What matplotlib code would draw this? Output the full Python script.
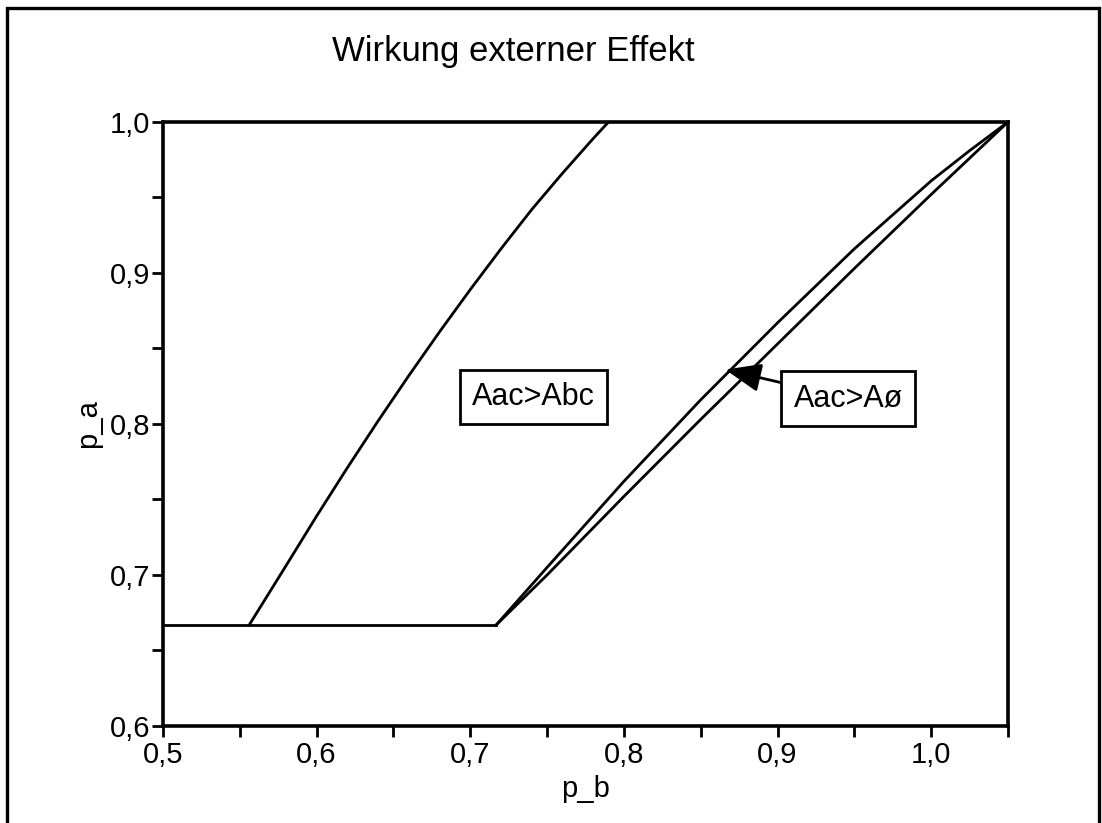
import matplotlib
matplotlib.use("Agg")
import matplotlib.pyplot as plt
from matplotlib.patches import Rectangle
from matplotlib.ticker import MultipleLocator

plt.rcParams["font.family"] = ["Liberation Sans", "DejaVu Sans"]

# ── data ───────────────────────────────────────────────────
# floor p_a = 2/3
floor_pb = [0.5, 0.7167]
floor_pa = [0.6667, 0.6667]

# left curve: Aac > Abc boundary
abc_pb = [0.556, 0.58, 0.60, 0.62, 0.64, 0.66, 0.68, 0.70, 0.72, 0.74,
          0.76, 0.78, 0.79]
abc_pa = [0.6667, 0.706, 0.739, 0.771, 0.802, 0.832, 0.861, 0.889, 0.916,
          0.942, 0.966, 0.989, 1.0]

# the two near-parallel curves: Aac > A0 boundary
a0_pb = [0.7167, 0.73, 0.75, 0.80, 0.85, 0.90, 0.95, 1.00, 1.025, 1.05]
a0_upper = [0.6667, 0.682, 0.705, 0.762, 0.816, 0.867, 0.916, 0.961, 0.981, 1.0]
a0_lower = [0.6667, 0.680, 0.700, 0.752, 0.803, 0.853, 0.903, 0.952, 0.976, 1.0]

x_ticks = [0.5, 0.6, 0.7, 0.8, 0.9, 1.0]
x_labels = ["0,5", "0,6", "0,7", "0,8", "0,9", "1,0"]
y_ticks = [0.6, 0.7, 0.8, 0.9, 1.0]
y_labels = ["0,6", "0,7", "0,8", "0,9", "1,0"]

# ── figure ─────────────────────────────────────────────────
fig = plt.figure(figsize=(11.02, 8.23), dpi=100)
ax = fig.add_axes([0.1479, 0.1179, 0.7668, 0.7339])

lw = 2.0
ax.plot(floor_pb, floor_pa, color="black", lw=lw)
ax.plot(abc_pb, abc_pa, color="black", lw=lw)
ax.plot(a0_pb, a0_upper, color="black", lw=lw)
ax.plot(a0_pb, a0_lower, color="black", lw=lw)

ax.set_xlim(0.5, 1.05)
ax.set_ylim(0.6, 1.0)

ax.set_xticks(x_ticks)
ax.set_xticklabels(x_labels)
ax.set_yticks(y_ticks)
ax.set_yticklabels(y_labels)
ax.xaxis.set_minor_locator(MultipleLocator(0.05))
ax.yaxis.set_minor_locator(MultipleLocator(0.05))
ax.tick_params(which="both", direction="out", width=2, length=8,
               labelsize=21)
ax.tick_params(axis="y", pad=1)
ax.tick_params(axis="x", pad=3)
for s in ax.spines.values():
    s.set_linewidth(2.6)

ax.set_xlabel("p_b", fontsize=21, labelpad=4)
ax.set_ylabel("p_a", fontsize=21, labelpad=6)

# labels in boxes
box = dict(boxstyle="square,pad=0.4", fc="white", ec="black", lw=2)
ax.text(0.741, 0.818, "Aac>Abc", fontsize=22, ha="center", va="center",
        bbox=box)
ax.annotate("Aac>A\u00f8", xy=(0.866, 0.836), xytext=(0.946, 0.817),
            fontsize=22, ha="center", va="center", bbox=box,
            arrowprops=dict(arrowstyle="-|>,head_length=1.0,head_width=0.4",
                            color="black", lw=2, shrinkA=0, shrinkB=0))

fig.text(0.466, 0.937, "Wirkung externer Effekt", fontsize=25,
         ha="center", va="center")

# outer frame
fig.patches.append(Rectangle((0.0064, -0.05), 0.9909, 1.04,
                             transform=fig.transFigure, fill=False,
                             ec="black", lw=2.4))

fig.savefig("out.png", dpi=100)
